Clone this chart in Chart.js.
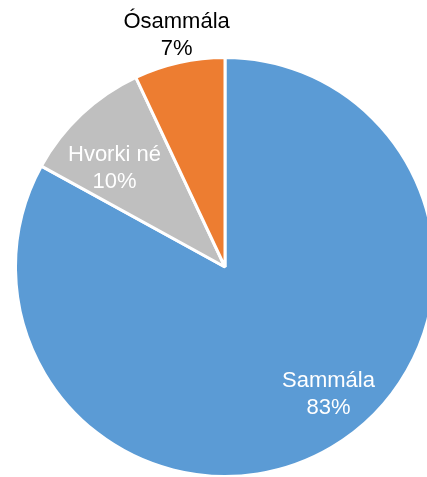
<!DOCTYPE html>
<html>
<head>
<meta charset="utf-8">
<script src="https://cdn.jsdelivr.net/npm/chart.js@4/dist/chart.umd.min.js"></script>
<style>
  html, body { margin: 0; padding: 0; background: #fff; overflow: hidden; }
  #wrap { position: relative; width: 450px; height: 478px; }
</style>
</head>
<body>
<div id="wrap"><canvas id="pieChart"></canvas></div>
<script>
const labels = ['Sammála', 'Hvorki né', 'Ósammála'];
const values = [83, 10, 7];
const colors = ['#5B9BD5', '#BFBFBF', '#ED7D31'];
const labelColors = ['#ffffff', '#ffffff', '#000000'];
// where each label sits: fraction of radius, and a small angle nudge (deg)
const labelRadius = [0.78, 0.71, 1.13];
const labelNudge = [-8.7, -4.8, 0.8];

// draw labels like excel data labels
const sliceLabels = {
    id: 'sliceLabels',
    afterDatasetsDraw(chart) {
        const ctx = chart.ctx;
        const meta = chart.getDatasetMeta(0);
        const total = values.reduce((a, b) => a + b, 0);
        ctx.save();
        ctx.font = '22px "Liberation Sans", Arial, sans-serif';
        ctx.textAlign = 'center';
        ctx.textBaseline = 'middle';
        meta.data.forEach((arc, i) => {
            const p = arc.getProps(['x', 'y', 'startAngle', 'endAngle', 'outerRadius'], true);
            const mid = (p.startAngle + p.endAngle) / 2 + labelNudge[i] * Math.PI / 180;
            const r = p.outerRadius * labelRadius[i];
            const x = p.x + Math.cos(mid) * r;
            const y = p.y + Math.sin(mid) * r;
            ctx.fillStyle = labelColors[i];
            ctx.fillText(labels[i], x, y - 13);
            ctx.fillText(Math.round(values[i] / total * 100) + '%', x, y + 14);
        });
        ctx.restore();
    }
};

const ctx = document.getElementById('pieChart').getContext('2d');
const pieChart = new Chart(ctx, {
    type: 'pie',
    data: {
        labels: labels,
        datasets: [{
            data: values,
            backgroundColor: colors,
            borderColor: '#ffffff',
            borderWidth: 3
        }]
    },
    options: {
        responsive: true,
        maintainAspectRatio: false,
        animation: false,
        layout: {
            padding: { top: 56, bottom: 0, left: 0, right: 0 }
        },
        plugins: {
            legend: { display: false },
            tooltip: { enabled: false }
        }
    },
    plugins: [sliceLabels]
});
</script>
</body>
</html>
